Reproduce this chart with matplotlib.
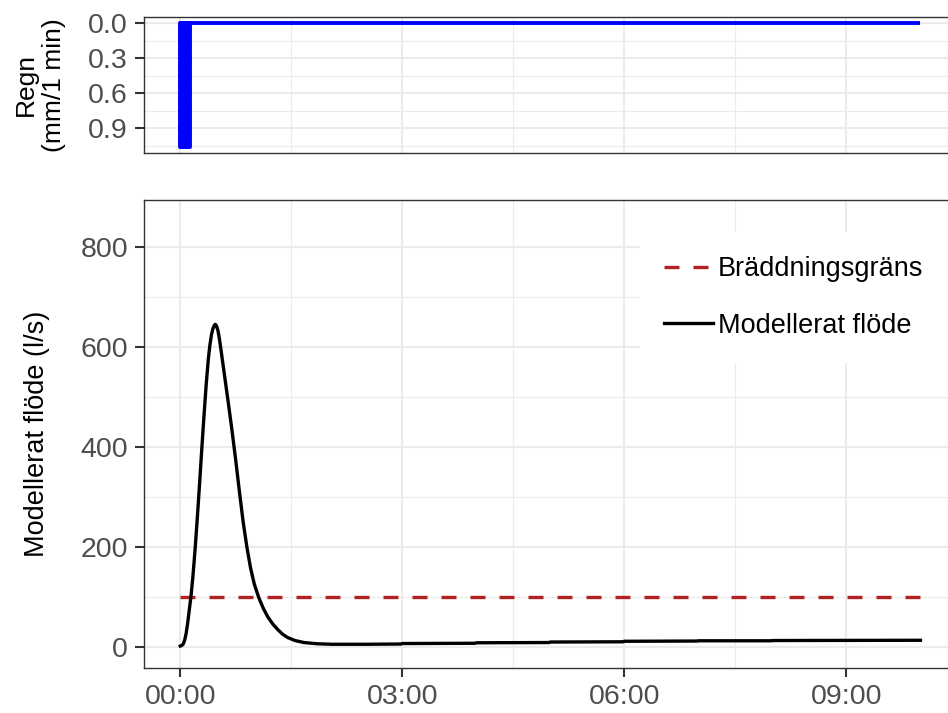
import numpy as np
import matplotlib
matplotlib.use("Agg")
import matplotlib.pyplot as plt
from matplotlib.ticker import FixedLocator, FixedFormatter, FormatStrFormatter

plt.rcParams['font.family'] = ['Liberation Sans', 'DejaVu Sans']

# rain, one value per minute (mm/1 min)
rain_minutes = np.arange(600)
rain_mm = [1.06] * 8 + [0.0] * 592

# modelled flow (l/s), time in hours after start
flow_t = [0.00, 0.02, 0.04, 0.06, 0.08, 0.10, 0.12, 0.145, 0.17, 0.20, 0.23,
          0.26, 0.29, 0.32, 0.35, 0.38, 0.40, 0.42, 0.44, 0.46, 0.473, 0.49,
          0.51, 0.53, 0.55, 0.58, 0.62, 0.65, 0.70, 0.75, 0.80, 0.85, 0.90,
          0.95, 1.00, 1.06, 1.12, 1.18, 1.25, 1.31, 1.38, 1.45, 1.55, 1.67,
          1.85, 2.05, 2.5, 2.98, 3.0, 3.98, 4.0, 4.98, 5.0, 5.98, 6.0, 6.98,
          7.0, 7.98, 8.0, 10.0]
flow = [2, 3, 6, 14, 28, 48, 72, 102, 140, 195, 258,
        325, 395, 462, 525, 578, 604, 624, 637, 644, 646, 643,
        633, 616, 595, 563, 520, 488, 432, 373, 310, 250, 200,
        158, 126, 99, 78, 61, 46, 36, 26, 19, 13, 9,
        6.5, 5.5, 5.5, 6, 7, 7.5, 8.5, 9, 10, 10.5, 11.5, 12,
        12.5, 12.5, 13, 13.5]

# overflow threshold (l/s)
limit_t = [0.0, 10.0]
limit = [100, 100]

x_ticks = [0, 3, 6, 9]
x_labels = ["00:00", "03:00", "06:00", "09:00"]
x_minor = [1.5, 4.5, 7.5]

W, H = 948, 713
fig = plt.figure(figsize=(W / 100, H / 100), dpi=100)

def px_axes(l, t, r, b):
    return fig.add_axes([l / W, 1 - b / H, (r - l) / W, (b - t) / H])

ax_r = px_axes(144, 17, 956, 153)
ax_q = px_axes(144, 200, 956, 668)

grid_c = '#EBEBEB'
for ax in (ax_r, ax_q):
    ax.set_xlim(-0.49, 10.48)
    ax.xaxis.set_major_locator(FixedLocator(x_ticks))
    ax.xaxis.set_minor_locator(FixedLocator(x_minor))
    ax.set_axisbelow(True)
    ax.grid(which='major', color=grid_c, linewidth=1.5)
    ax.grid(which='minor', color=grid_c, linewidth=0.8)
    for s in ax.spines.values():
        s.set_color('#333333')
        s.set_linewidth(1.0)
    ax.tick_params(which='major', direction='out', length=6.5, width=1.5,
                   color='#333333', labelsize=20.5, labelcolor='#4D4D4D', pad=5)
    ax.tick_params(which='minor', length=0)

# rain panel
ax_r.bar(rain_minutes / 60, rain_mm, width=1 / 60, color='blue',
         edgecolor='blue', linewidth=2.8, joinstyle='round')
ax_r.set_ylim(1.113, -0.053)
ax_r.yaxis.set_major_locator(FixedLocator([0.0, 0.3, 0.6, 0.9]))
ax_r.yaxis.set_minor_locator(FixedLocator([0.15, 0.45, 0.75, 1.05]))
ax_r.yaxis.set_major_formatter(FormatStrFormatter('%.1f'))
ax_r.tick_params(axis='x', which='both', bottom=False, labelbottom=False)
ax_r.set_ylabel("Regn\n(mm/1 min)", fontsize=19, linespacing=1.2)
ax_r.yaxis.set_label_coords((66 - 144) / 812, 0.5)

# flow panel
ax_q.plot(limit_t, limit, color='#B22222', linewidth=2.4, dashes=(4.5, 4.2),
          label='Bräddningsgräns')
ax_q.plot(flow_t, flow, color='black', linewidth=2.4,
          label='Modellerat flöde')
ax_q.set_ylim(-42, 895)
ax_q.yaxis.set_major_locator(FixedLocator([0, 200, 400, 600, 800]))
ax_q.yaxis.set_minor_locator(FixedLocator([100, 300, 500, 700]))
ax_q.xaxis.set_major_formatter(FixedFormatter(x_labels))
ax_q.set_ylabel("Modellerat flöde (l/s)", fontsize=19.5)
ax_q.yaxis.set_label_coords((50 - 144) / 812, 0.5)

leg = ax_q.legend(loc='upper right', bbox_to_anchor=((948 - 144) / 812, (668 - 232) / 468),
                  fontsize=19.5, frameon=True, fancybox=False, framealpha=1,
                  edgecolor='none', facecolor='white', handlelength=1.8,
                  handletextpad=0.2, labelspacing=1.12, borderpad=0.9,
                  borderaxespad=0)

fig.savefig("out.png", dpi=100)
